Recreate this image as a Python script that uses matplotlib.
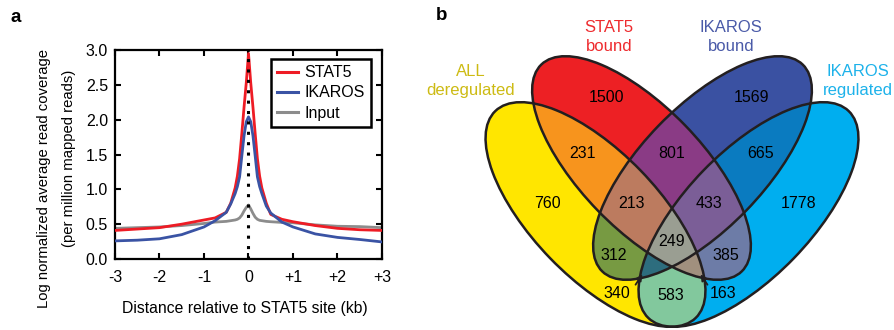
import numpy as np
import matplotlib
matplotlib.use("Agg")
import matplotlib.pyplot as plt
from matplotlib.patches import Ellipse

plt.rcParams["font.family"] = ["Liberation Sans", "DejaVu Sans"]
plt.rcParams["font.size"] = 11.5

# ---- panel a data ----
dist_kb = [-3, -2.5, -2, -1.5, -1, -0.75, -0.5, -0.4, -0.3, -0.25, -0.2, -0.15, -0.1, -0.05,
           0, 0.05, 0.1, 0.15, 0.2, 0.25, 0.3, 0.4, 0.5, 0.75, 1, 1.5, 2, 2.5, 3]
stat5 = [0.41, 0.43, 0.45, 0.50, 0.56, 0.59, 0.67, 0.80, 1.02, 1.19, 1.44, 1.80, 2.18, 2.53,
         2.95, 2.53, 2.18, 1.80, 1.44, 1.19, 1.02, 0.80, 0.64, 0.57, 0.535, 0.48, 0.44, 0.42, 0.41]
ikaros = [0.26, 0.27, 0.29, 0.35, 0.46, 0.55, 0.67, 0.79, 0.94, 1.04, 1.18, 1.48, 1.77, 1.97,
          2.04, 1.97, 1.77, 1.48, 1.18, 1.04, 0.94, 0.76, 0.66, 0.53, 0.46, 0.36, 0.31, 0.28, 0.245]
inp = [0.44, 0.45, 0.46, 0.48, 0.51, 0.53, 0.54, 0.55, 0.56, 0.57, 0.59, 0.63, 0.69, 0.74,
       0.775, 0.72, 0.655, 0.60, 0.57, 0.555, 0.55, 0.54, 0.535, 0.525, 0.52, 0.49, 0.47, 0.465, 0.45]
xtick_vals = [-3, -2, -1, 0, 1, 2, 3]
xtick_labels = ["-3", "-2", "-1", "0", "+1", "+2", "+3"]
ytick_vals = [0.0, 0.5, 1.0, 1.5, 2.0, 2.5, 3.0]

# ---- panel b data ----
set_names = ["ALL\nderegulated", "STAT5\nbound", "IKAROS\nbound", "IKAROS\nregulated"]
set_colors = ["#CDBB14", "#EE2B2E", "#4A5AA8", "#1DB2EA"]
region_sets = ["A", "B", "C", "D", "AB", "BC", "CD", "ABC", "BCD", "ABCD",
               "AC", "BD", "AD", "ACD", "ABD"]
region_counts = [760, 1500, 1569, 1778, 231, 801, 665, 213, 433, 249,
                 312, 385, 583, 340, 163]
region_colors = ["#FFE600", "#ED2024", "#3A52A2", "#00AEEF", "#F7941E", "#8A3C85",
                 "#0A7BC1", "#BC7B5F", "#7B5E98", "#9A9E92", "#789A43", "#6E7CA8",
                 "#82C99D", "#2E6E7E", "#A1917E"]

fig = plt.figure(figsize=(8.95, 3.3), dpi=100)

# ================= panel a =================
ax = fig.add_axes([115 / 895, 71 / 330, 267 / 895, 209 / 330])
ax.plot(dist_kb, inp, color="#8C8C8C", lw=2, label="Input", zorder=2)
ax.plot(dist_kb, stat5, color="#EE1C25", lw=2, label="STAT5", zorder=3)
ax.plot(dist_kb, ikaros, color="#3A53A4", lw=2, label="IKAROS", zorder=4)
ax.axvline(0, color="black", lw=2.2, linestyle=(0, (1, 2.4)), zorder=5)
ax.set_xlim(-3, 3)
ax.set_ylim(0, 3)
ax.set_xticks(xtick_vals)
ax.set_xticklabels(xtick_labels)
ax.set_yticks(ytick_vals)
ax.set_yticklabels([f"{v:.1f}" for v in ytick_vals])
ax.tick_params(direction="in", length=4, width=1.5, top=True, right=True, labelsize=11.5)
ax.tick_params(axis="y", pad=5)
ax.tick_params(axis="x", pad=8)
for s in ax.spines.values():
    s.set_linewidth(1.6)

h, l = ax.get_legend_handles_labels()
order = [1, 2, 0]
leg = ax.legend([h[i] for i in order], [l[i] for i in order],
                loc="upper right", bbox_to_anchor=(0.959, 0.957), borderaxespad=0,
                fancybox=False, framealpha=1, edgecolor="black", fontsize=11.5,
                handlelength=1.3, handletextpad=0.4, labelspacing=0.32, borderpad=0.4)
leg.get_frame().set_linewidth(1.8)
for line in leg.get_lines():
    line.set_linewidth(2.2)

fig.text(44 / 895, 1 - 179 / 330, "Log normalized average read coverage",
         rotation=90, ha="center", va="center", fontsize=10.7)
fig.text(69 / 895, 1 - 158 / 330, "(per million mapped reads)",
         rotation=90, ha="center", va="center", fontsize=10.7)
fig.text(245 / 895, 1 - 308 / 330, "Distance relative to STAT5 site (kb)",
         ha="center", va="center", fontsize=11.3)
fig.text(16 / 895, 1 - 17 / 330, "a", ha="center", va="center", fontsize=13.5, fontweight="bold")

# ================= panel b =================
axb = fig.add_axes([395 / 895, 0, 500 / 895, 1])
axb.set_xlim(395, 895)
axb.set_ylim(330, 0)
axb.axis("off")

# ellipse geometry in pixel units (y downward): A, B, C, D
ell_cx = [595.5, 641.5, 702.5, 748.5]
ell_cy = [214.5, 168.0, 168.0, 214.5]
ell_a = [144, 144, 144, 144]
ell_b = [63, 61, 61, 63]
ell_ang = [45.9, 45.9, -45.9, -45.9]

ss = 4
gx = np.linspace(395, 895, 500 * ss)
gy = np.linspace(0, 330, 330 * ss)
X, Y = np.meshgrid(gx, gy)
code = np.zeros(X.shape, dtype=int)
for k in range(4):
    t = np.deg2rad(ell_ang[k])
    dx, dy = X - ell_cx[k], Y - ell_cy[k]
    u = dx * np.cos(t) + dy * np.sin(t)
    v = -dx * np.sin(t) + dy * np.cos(t)
    code += ((u / ell_a[k]) ** 2 + (v / ell_b[k]) ** 2 <= 1).astype(int) << k

lut = np.ones((16, 3))
for name, col in zip(region_sets, region_colors):
    idx = sum(1 << "ABCD".index(ch) for ch in name)
    lut[idx] = matplotlib.colors.to_rgb(col)
axb.imshow(lut[code], extent=(395, 895, 330, 0), origin="upper", interpolation="antialiased")

for k in range(4):
    axb.add_patch(Ellipse((ell_cx[k], ell_cy[k]), 2 * ell_a[k], 2 * ell_b[k], angle=ell_ang[k],
                          fill=False, edgecolor="#231F20", lw=1.8, zorder=3))

# label layout
label_pos = [(547, 203), (607, 98), (752, 98), (799, 203), (583, 154), (672, 154), (761, 154),
             (632, 204), (709, 204), (672, 242), (614, 255), (726, 255), (671, 296),
             (617, 294), (723, 294)]
for (x, y), n in zip(label_pos, region_counts):
    axb.text(x, y, str(n), ha="center", va="center", fontsize=11.5, zorder=4)

axb.annotate("", xy=(644, 272), xytext=(634, 287),
             arrowprops=dict(arrowstyle="-|>", color="#231F20", lw=1.3, mutation_scale=9), zorder=4)
axb.annotate("", xy=(699, 272), xytext=(709, 287),
             arrowprops=dict(arrowstyle="-|>", color="#231F20", lw=1.3, mutation_scale=9), zorder=4)

set_label_pos = [(471, 81), (609, 37), (731, 37), (858, 81)]
for (x, y), name, col in zip(set_label_pos, set_names, set_colors):
    axb.text(x, y, name, ha="center", va="center", color=col, fontsize=12, linespacing=1.3)

fig.text(442 / 895, 1 - 16 / 330, "b", ha="center", va="center", fontsize=13.5, fontweight="bold")

fig.savefig("out.png", dpi=100)
